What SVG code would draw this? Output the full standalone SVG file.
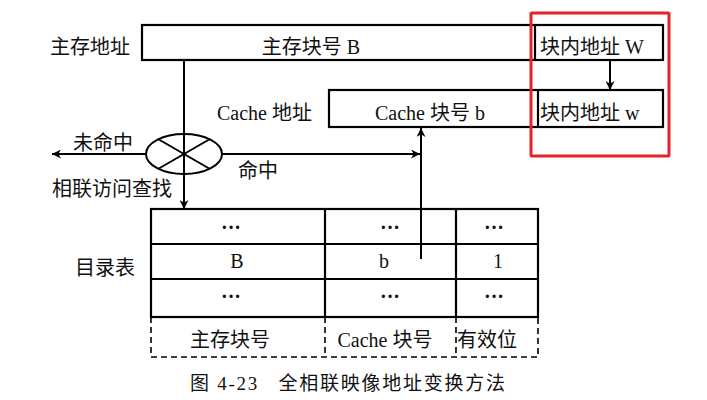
<svg xmlns="http://www.w3.org/2000/svg" width="707" height="400" viewBox="0 0 707 400">
<style>
text{font-family:"Liberation Serif","Noto Sans CJK SC",serif;font-size:20px;fill:#111}
.c{text-anchor:middle}
.d{font-weight:bold;font-size:20px}
.box{fill:none;stroke:#000;stroke-width:2.2}
.ln{fill:none;stroke:#000;stroke-width:2}
.dash{fill:none;stroke:#000;stroke-width:1.6;stroke-dasharray:6 4}
</style>
<defs>
<marker id="ah" viewBox="0 0 10 10" refX="10" refY="5" markerWidth="9" markerHeight="9" markerUnits="userSpaceOnUse" orient="auto">
<path d="M0,0 L10,5 L0,10 L3,5 z" fill="#000"/>
</marker>
</defs>
<rect width="707" height="400" fill="#fff"/>
<g id="main-addr">
<text x="50" y="54">主存地址</text>
<rect class="box" x="142" y="25" width="521" height="35"/>
<line class="box" x1="535" y1="25" x2="535" y2="60"/>
<text class="c" x="311" y="54">主存块号 B</text>
<text x="540" y="54">块内地址 W</text>
</g>
<g id="cache-addr">
<text x="217" y="120">Cache 地址</text>
<rect class="box" x="329" y="90" width="334" height="37"/>
<line class="box" x1="538" y1="90" x2="538" y2="127"/>
<text class="c" x="430" y="120">Cache 块号 b</text>
<text x="540" y="120">块内地址 w</text>
</g>
<g id="highlight">
<rect x="531" y="13" width="138" height="143" fill="none" stroke="#e8222b" stroke-width="3" rx="1"/>
</g>
<g id="comparator">
<ellipse class="ln" cx="184" cy="154" rx="38" ry="20"/>
<line class="ln" x1="158" y1="139" x2="210" y2="169"/>
<line class="ln" x1="210" y1="139" x2="158" y2="169"/>
<text x="73" y="150">未命中</text>
<text x="238" y="178">命中</text>
<text x="52" y="196">相联访问查找</text>
</g>
<g id="directory">
<text x="75" y="275">目录表</text>
<rect class="box" x="151" y="209" width="387" height="108"/>
<line class="box" x1="151" y1="244" x2="538" y2="244"/>
<line class="box" x1="151" y1="279" x2="538" y2="279"/>
<line class="box" x1="325" y1="209" x2="325" y2="317"/>
<line class="box" x1="456" y1="209" x2="456" y2="317"/>
<text class="c d" x="231" y="234">···</text>
<text class="c d" x="390" y="234">···</text>
<text class="c d" x="494" y="234">···</text>
<text class="c" x="237" y="268">B</text>
<text class="c" x="384" y="268">b</text>
<text class="c" x="498" y="268">1</text>
<text class="c d" x="231" y="303">···</text>
<text class="c d" x="390" y="303">···</text>
<text class="c d" x="494" y="303">···</text>
<path class="dash" d="M151,317 V357 H538 V317 M325,317 V357 M456,317 V357"/>
<text class="c" x="230" y="347">主存块号</text>
<text class="c" x="385" y="347">Cache 块号</text>
<text class="c" x="487" y="347">有效位</text>
</g>
<g id="connectors">
<line class="ln" x1="184" y1="60" x2="184" y2="209" marker-end="url(#ah)"/>
<line class="ln" x1="146" y1="154" x2="52" y2="154" marker-end="url(#ah)"/>
<line class="ln" x1="222" y1="154" x2="420" y2="154" marker-end="url(#ah)"/>
<line class="ln" x1="421" y1="259" x2="421" y2="128" marker-end="url(#ah)"/>
<line class="ln" x1="610" y1="60" x2="610" y2="90" marker-end="url(#ah)"/>
</g>
<g id="caption">
<text x="190" y="390" style="font-size:19px;white-space:pre" xml:space="preserve" textLength="315" lengthAdjust="spacing">图 4-23   全相联映像地址变换方法</text>
</g>
</svg>
